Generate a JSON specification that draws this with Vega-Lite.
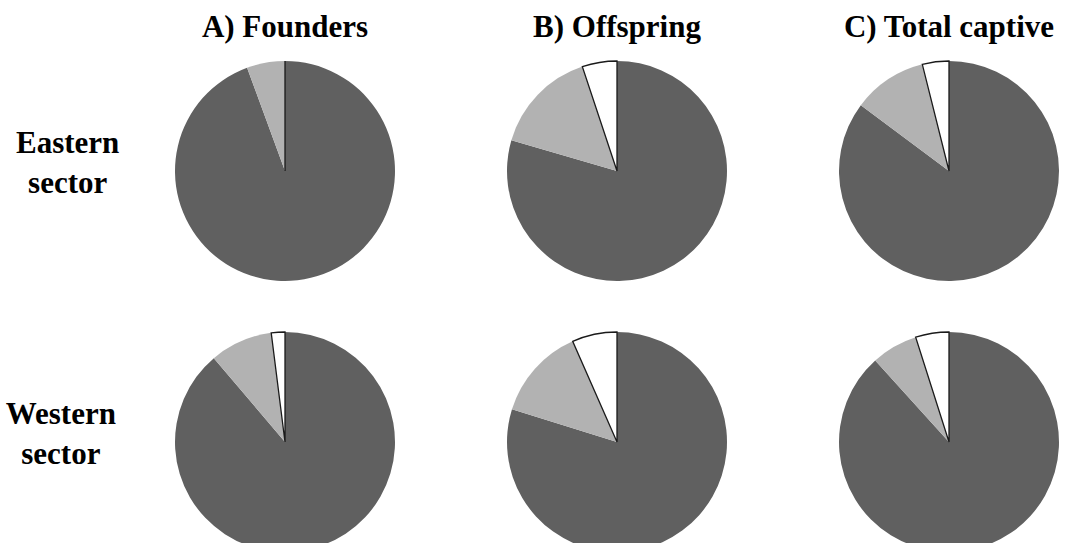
{
  "$schema": "https://vega.github.io/schema/vega-lite/v6.json",
  "background": "white",
  "padding": {"left": 5, "top": 12, "right": 5, "bottom": 5},
  "data": {"values": [
    {"sector": "Eastern sector", "group": "A) Founders", "cat": "dark", "ord": 1, "value": 94.4},
    {"sector": "Eastern sector", "group": "A) Founders", "cat": "light", "ord": 2, "value": 5.6},
    {"sector": "Eastern sector", "group": "A) Founders", "cat": "white", "ord": 3, "value": 0},
    {"sector": "Eastern sector", "group": "B) Offspring", "cat": "dark", "ord": 1, "value": 79.5},
    {"sector": "Eastern sector", "group": "B) Offspring", "cat": "light", "ord": 2, "value": 15.4},
    {"sector": "Eastern sector", "group": "B) Offspring", "cat": "white", "ord": 3, "value": 5.1},
    {"sector": "Eastern sector", "group": "C) Total captive", "cat": "dark", "ord": 1, "value": 85.2},
    {"sector": "Eastern sector", "group": "C) Total captive", "cat": "light", "ord": 2, "value": 10.9},
    {"sector": "Eastern sector", "group": "C) Total captive", "cat": "white", "ord": 3, "value": 3.9},
    {"sector": "Western sector", "group": "A) Founders", "cat": "dark", "ord": 1, "value": 88.8},
    {"sector": "Western sector", "group": "A) Founders", "cat": "light", "ord": 2, "value": 9.2},
    {"sector": "Western sector", "group": "A) Founders", "cat": "white", "ord": 3, "value": 2.0},
    {"sector": "Western sector", "group": "B) Offspring", "cat": "dark", "ord": 1, "value": 79.8},
    {"sector": "Western sector", "group": "B) Offspring", "cat": "light", "ord": 2, "value": 13.6},
    {"sector": "Western sector", "group": "B) Offspring", "cat": "white", "ord": 3, "value": 6.6},
    {"sector": "Western sector", "group": "C) Total captive", "cat": "dark", "ord": 1, "value": 88.3},
    {"sector": "Western sector", "group": "C) Total captive", "cat": "light", "ord": 2, "value": 6.8},
    {"sector": "Western sector", "group": "C) Total captive", "cat": "white", "ord": 3, "value": 4.9}
  ]},
  "facet": {
    "row": {"field": "sector", "type": "nominal", "title": null,
      "header": {"labelAngle": 0, "labelAlign": "center", "labelOrient": "left", "labelBaseline": "bottom",
        "labelExpr": "split(datum.value, ' ')", "labelLineHeight": 40,
        "labelFont": "Liberation Serif", "labelFontWeight": "bold", "labelFontSize": 31, "labelColor": "black", "labelPadding": -47}},
    "column": {"field": "group", "type": "nominal", "title": null,
      "header": {"labelFont": "Liberation Serif", "labelFontWeight": "bold", "labelFontSize": 31, "labelColor": "black", "labelPadding": -9}}
  },
  "spacing": {"row": 21, "column": 10},
  "spec": {
    "width": 322,
    "height": 250,
    "mark": {"type": "arc", "outerRadius": 110, "stroke": "#1a1a1a", "yOffset": 11},
    "encoding": {
      "theta": {"field": "value", "type": "quantitative", "stack": true, "scale": {"domain": [0, 100]}},
      "order": {"field": "ord", "type": "quantitative"},
      "color": {"field": "cat", "type": "nominal", "legend": null,
        "scale": {"domain": ["dark", "light", "white"], "range": ["#606060", "#b2b2b2", "#ffffff"]}},
      "strokeWidth": {"condition": {"test": "datum.cat === 'white'", "value": 1.3}, "value": 0}
    }
  },
  "config": {"view": {"stroke": null}}
}
